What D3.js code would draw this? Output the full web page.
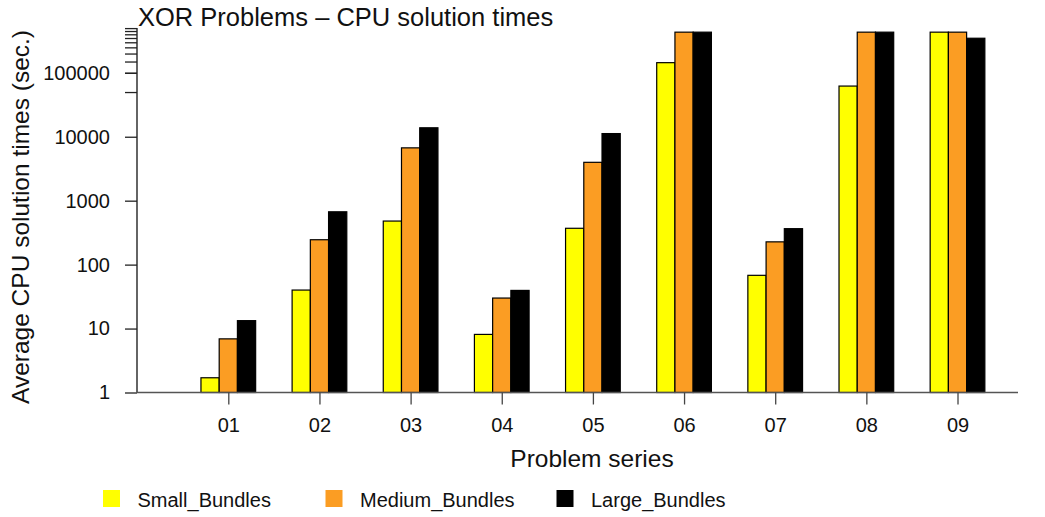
<!DOCTYPE html>
<html>
<head>
<meta charset="utf-8">
<script src="https://cdn.jsdelivr.net/npm/d3@7"></script>
<style>
  html, body { margin: 0; padding: 0; background: #fff; }
  svg { display: block; font-family: "Liberation Sans", Arial, sans-serif; }
</style>
</head>
<body>
<svg id="chart" width="1045" height="517"></svg>
<script>
// Problem series and average CPU solution times (seconds) per bundle size
const problems = ["01", "02", "03", "04", "05", "06", "07", "08", "09"];
const seriesNames = ["Small_Bundles", "Medium_Bundles", "Large_Bundles"];
const smallBundles  = [1.7, 40, 480, 8.1, 370, 144000, 68, 62000, 432000];
const mediumBundles = [6.9, 245, 6700, 30, 3980, 432000, 227, 432000, 432000];
const largeBundles  = [13.3, 670, 13800, 39.5, 11200, 432000, 365, 432000, 347000];
const seriesColors  = ["#ffff00", "#fb9d23", "#000000"];
const yLabelTicks = [1, 10, 100, 1000, 10000, 100000];
const yMinorTicks = [50000, 100000, 150000, 200000, 250000, 300000, 350000, 400000, 450000, 500000];

const series = [smallBundles, mediumBundles, largeBundles];

const svg = d3.select("#chart");

// Layout
const axisX = 137, baseY = 392.5, topY = 28.1;
const y = d3.scaleLog().domain([1, 500000]).range([baseY, topY]);

// Bars are laid out in unit widths: 2 units of space before each group of 3 bars
const groupStride = series.length + 2;
const nUnits = problems.length * groupStride;
const x = d3.scaleLinear().domain([0, nUnits]).range([164.5, 164.5 + nUnits * 18.23]);
const groupStart = i => 2 + groupStride * i;

// Bars
series.forEach((vals, j) => {
  svg.append("g")
    .selectAll("rect")
    .data(vals)
    .join("rect")
    .attr("x", (d, i) => x(groupStart(i) + j))
    .attr("width", x(1) - x(0))
    .attr("y", d => y(d))
    .attr("height", d => y(1) - y(d))
    .attr("fill", seriesColors[j])
    .attr("stroke", "#000")
    .attr("stroke-width", 1.2);
});

// Y axis: labelled decades plus unlabelled linear ticks at the top
const yAxis = d3.axisLeft(y).tickValues(yLabelTicks).tickFormat(d3.format("d")).tickSize(12).tickPadding(15);
const gy = svg.append("g").attr("transform", `translate(${axisX},0)`).call(yAxis);
gy.select(".domain").attr("d", `M0,${topY}V${baseY}`).attr("stroke", "#111").attr("stroke-width", 1.3);
gy.selectAll(".tick line").attr("stroke", "#222").attr("stroke-width", 1.3);
gy.selectAll(".tick text").attr("font-size", 20).attr("fill", "#111")
  .attr("font-family", "Liberation Sans, Arial, sans-serif");

const yMinor = d3.axisLeft(y).tickValues(yMinorTicks).tickFormat("").tickSize(12);
const gy2 = svg.append("g").attr("transform", `translate(${axisX},0)`).call(yMinor);
gy2.select(".domain").remove();
gy2.selectAll(".tick line").attr("stroke", "#222").attr("stroke-width", 1.3);

// X axis: baseline and ticks under each group
const xTickPos = problems.map((p, i) => groupStart(i) + 1.5);
const xAxis = d3.axisBottom(x).tickValues(xTickPos).tickFormat((d, i) => problems[i]).tickSize(12).tickPadding(13);
const gx = svg.append("g").attr("transform", `translate(0,${baseY})`).call(xAxis);
gx.select(".domain").attr("d", `M${axisX},0H1018`).attr("stroke", "#555").attr("stroke-width", 1.6);
gx.selectAll(".tick line").attr("stroke", "#444").attr("stroke-width", 1.3);
gx.selectAll(".tick text").attr("font-size", 20).attr("fill", "#111")
  .attr("font-family", "Liberation Sans, Arial, sans-serif");

// Title and axis titles
svg.append("text")
  .attr("x", 138).attr("y", 25.5)
  .attr("font-size", 25.5).attr("fill", "#111")
  .text("XOR Problems \u2013 CPU solution times");

svg.append("text")
  .attr("transform", "translate(29,217) rotate(-90)")
  .attr("text-anchor", "middle")
  .attr("font-size", 24.5).attr("fill", "#111")
  .text("Average CPU solution times (sec.)");

svg.append("text")
  .attr("x", 592).attr("y", 467)
  .attr("text-anchor", "middle")
  .attr("font-size", 24.5).attr("fill", "#111")
  .text("Problem series");

// Legend
const legendX = [103, 325.5, 556.5];
const legend = svg.append("g").selectAll("g")
  .data(seriesNames)
  .join("g")
  .attr("transform", (d, i) => `translate(${legendX[i]},490)`);
legend.append("rect")
  .attr("width", 17).attr("height", 17)
  .attr("fill", (d, i) => seriesColors[i]);
legend.append("text")
  .attr("x", 34.5).attr("y", 16.5)
  .attr("font-size", 20).attr("fill", "#111")
  .text(d => d);
</script>
</body>
</html>
